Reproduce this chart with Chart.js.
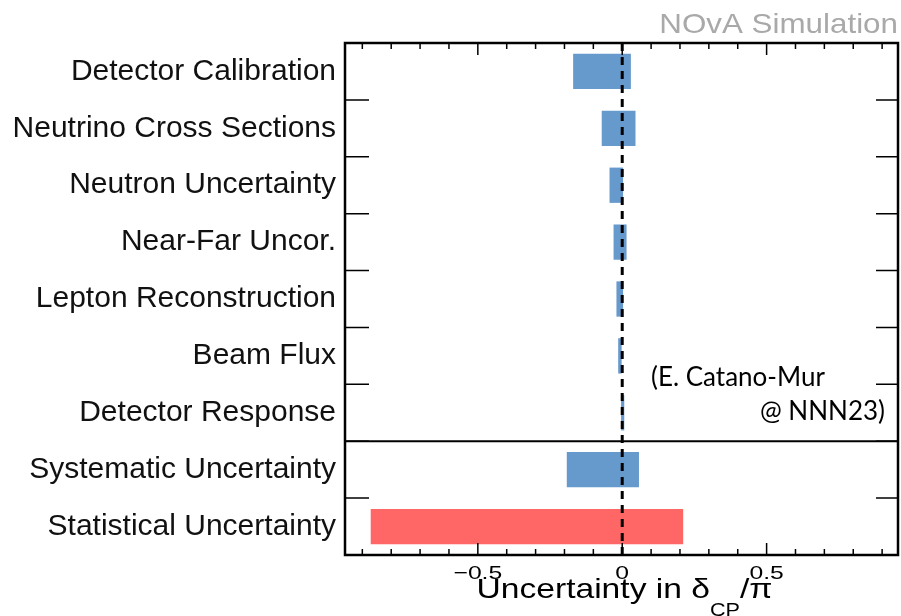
<!DOCTYPE html>
<html>
<head>
<meta charset="utf-8">
<script src="https://cdn.jsdelivr.net/npm/chart.js@4/dist/chart.umd.min.js"></script>
<style>
  html, body { margin: 0; padding: 0; background: #fff; }
  #wrap { width: 901px; height: 616px; position: relative; }
</style>
</head>
<body>
<div id="wrap"><canvas id="chart"></canvas></div>
<script>
// systematic breakdown, in units of pi
const categories = [
    'Detector Calibration',
    'Neutrino Cross Sections',
    'Neutron Uncertainty',
    'Near-Far Uncor.',
    'Lepton Reconstruction',
    'Beam Flux',
    'Detector Response',
    'Systematic Uncertainty',
    'Statistical Uncertainty'
];
const lowEdges  = [-0.170, -0.071, -0.044, -0.030, -0.020, -0.014, -0.004, -0.192, -0.871];
const highEdges = [ 0.030,  0.046,  0.003,  0.015,  0.003, -0.002,  0.007,  0.058,  0.211];
const xTickLabels = [-0.5, 0, 0.5];

const BLUE = 'rgb(102,153,204)';
const RED = 'rgb(255,102,102)';
const LABEL_FONT = 'Liberation Sans';

// the original plot was pasted a bit wide, so text is stretched sideways
function wideText(c, text, x, y, sx, align) {
    c.save();
    c.translate(x, y);
    c.scale(sx, 1);
    c.textAlign = align;
    c.fillText(text, 0, 0);
    c.restore();
}

const fmtTick = v => v < 0 ? '\u2212' + Math.abs(v) : String(v);

const rootFrame = {
    id: 'rootFrame',
    afterDatasetsDraw(chart) {
        const { ctx: c, chartArea: a, scales: { x, y } } = chart;
        c.save();

        // zero line
        const x0 = x.getPixelForValue(0);
        c.strokeStyle = '#000';
        c.lineWidth = 3;
        c.setLineDash([8, 6]);
        c.beginPath(); c.moveTo(x0, a.top); c.lineTo(x0, a.bottom); c.stroke();
        c.setLineDash([]);

        // frame
        c.lineWidth = 2.5;
        c.strokeRect(a.left, a.top, a.right - a.left, a.bottom - a.top);

        // x ticks, inward on top and bottom
        c.lineWidth = 1.5;
        x.ticks.forEach(t => {
            const px = x.getPixelForValue(t.value);
            const major = xTickLabels.some(v => Math.abs(v - t.value) < 1e-6);
            const len = major ? 12 : 6;
            c.beginPath();
            c.moveTo(px, a.top); c.lineTo(px, a.top + len);
            c.moveTo(px, a.bottom); c.lineTo(px, a.bottom - len);
            c.stroke();
        });

        // y ticks between categories
        for (let i = 0; i < categories.length - 1; i++) {
            const py = (y.getPixelForValue(i) + y.getPixelForValue(i + 1)) / 2;
            c.beginPath();
            c.moveTo(a.left, py); c.lineTo(a.left + 24, py);
            c.moveTo(a.right, py); c.lineTo(a.right - 22, py);
            c.stroke();
        }

        // separator before the totals
        const s = categories.indexOf('Systematic Uncertainty');
        const sy = (y.getPixelForValue(s - 1) + y.getPixelForValue(s)) / 2;
        c.lineWidth = 2;
        c.beginPath(); c.moveTo(a.left, sy); c.lineTo(a.right, sy); c.stroke();

        c.fillStyle = '#000';
        c.textBaseline = 'alphabetic';

        // x tick labels
        c.font = `19px "${LABEL_FONT}"`;
        xTickLabels.forEach(v => {
            wideText(c, fmtTick(v), x.getPixelForValue(v), 579, 1.3, 'center');
        });

        // axis title with subscript
        const SX = 1.2;
        const big = `28px "${LABEL_FONT}"`, small = `18px "${LABEL_FONT}"`;
        c.font = big;
        const p1 = 'Uncertainty in \u03b4', p3 = '/\u03c0';
        const w1 = c.measureText(p1).width * SX, w3 = c.measureText(p3).width * SX;
        c.font = small;
        const w2 = c.measureText('CP').width * SX;
        let tx = (a.left + a.right) / 2 + 3 - (w1 + w2 + w3) / 2;
        c.font = big; wideText(c, p1, tx, 598, SX, 'left'); tx += w1;
        c.font = small; wideText(c, 'CP', tx, 616, SX, 'left'); tx += w2;
        c.font = big; wideText(c, p3, tx, 598, SX, 'left');

        // simulation label
        c.fillStyle = '#a9a9a9';
        c.font = `28px "${LABEL_FONT}"`;
        wideText(c, 'NOvA Simulation', a.right, 33, 1.12, 'right');

        // talk reference
        c.fillStyle = '#000';
        c.font = '26px Lato';
        c.textAlign = 'left';
        c.fillText('(E. Catano-Mur', a.right - 247, 386);
        c.textAlign = 'right';
        c.fillText('@ NNN23)', a.right - 13, 420);

        c.restore();
    }
};

new Chart(document.getElementById('chart'), {
    type: 'bar',
    data: {
        labels: categories,
        datasets: [{
            data: categories.map((_, i) => [lowEdges[i], highEdges[i]]),
            backgroundColor: categories.map(l => l === 'Statistical Uncertainty' ? RED : BLUE),
            borderWidth: 0,
            categoryPercentage: 1,
            barPercentage: 0.62
        }]
    },
    options: {
        indexAxis: 'y',
        responsive: true,
        maintainAspectRatio: false,
        animation: false,
        layout: { padding: { top: 43, right: 3, left: 0, bottom: 0 } },
        plugins: {
            legend: { display: false },
            tooltip: { enabled: false }
        },
        scales: {
            x: {
                type: 'linear',
                min: -0.96,
                max: 0.955,
                grid: { display: false, drawTicks: false },
                border: { display: false },
                afterFit: s => { s.height = 61; },
                ticks: {
                    display: false,
                    stepSize: 0.1,
                    includeBounds: false,
                    autoSkip: false
                }
            },
            y: {
                grid: { display: false, drawTicks: false },
                border: { display: false },
                afterFit: s => { s.width = 345; },
                ticks: {
                    padding: 9,
                    color: '#111',
                    font: { family: LABEL_FONT, size: 30 }
                }
            }
        }
    },
    plugins: [rootFrame]
});
</script>
</body>
</html>
